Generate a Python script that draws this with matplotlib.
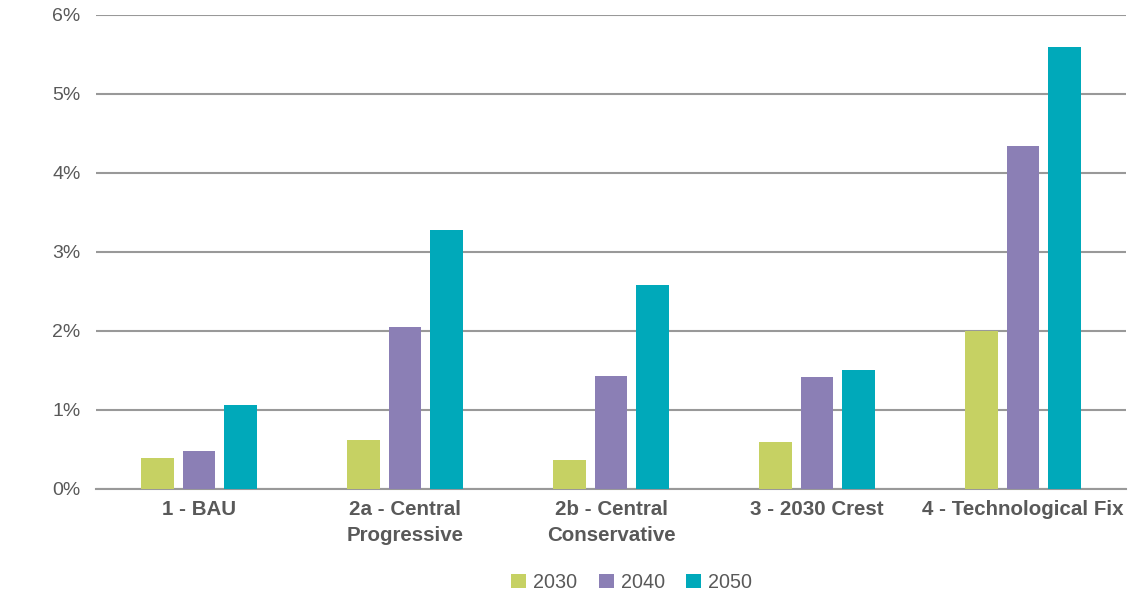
import numpy as np
import matplotlib.pyplot as plt
from matplotlib.ticker import FuncFormatter

# ------------------------------------------------------------
# Data
# ------------------------------------------------------------
categories = ["1 - BAU", "2a - Central\nProgressive", "2b - Central\nConservative",
              "3 - 2030 Crest", "4 - Technological Fix"]
years = ["2030", "2040", "2050"]
v2030 = [0.39, 0.62, 0.37, 0.59, 2.00]
v2040 = [0.48, 2.05, 1.43, 1.42, 4.34]
v2050 = [1.06, 3.28, 2.58, 1.51, 5.59]
yticks = [0, 1, 2, 3, 4, 5, 6]

colors = ["#C6D163", "#8B7FB5", "#00A9BA"]
text_col = "#595959"

plt.rcParams['font.family'] = ['Liberation Sans', 'DejaVu Sans']

fig = plt.figure(figsize=(11.39, 5.97), dpi=100)
ax = fig.add_axes([0.0843, 0.181, 0.9043, 0.7939])

x = np.arange(len(categories))
step = 0.2
width = 0.16
for i, (vals, lab) in enumerate(zip([v2030, v2040, v2050], years)):
    ax.bar(x + (i - 1) * step, vals, width=width, color=colors[i], label=lab, zorder=3)

ax.set_xlim(-0.5, len(categories) - 0.5)
ax.set_ylim(0, 6)
ax.set_yticks(yticks)
ax.yaxis.set_major_formatter(FuncFormatter(lambda v, p: f"{v:.0f}%"))
ax.grid(axis="y", color="#999999", linewidth=1.5, zorder=0)
ax.set_axisbelow(True)

for s in ["top", "right", "left"]:
    ax.spines[s].set_visible(False)
ax.spines["bottom"].set_color("#999999")
ax.spines["bottom"].set_linewidth(1.5)

ax.tick_params(axis="y", length=0, pad=11, labelsize=14, labelcolor=text_col)
ax.tick_params(axis="x", length=0, pad=8)
ax.set_xticks(x)
ax.set_xticklabels(categories, fontsize=14.8, fontweight="bold", color=text_col,
                   linespacing=1.45)

leg = ax.legend(loc="center", bbox_to_anchor=(0.52, -0.197), ncol=3, frameon=False,
                handlelength=0.76, handleheight=0.76, handletextpad=0.35,
                columnspacing=1.1, fontsize=14.2)
for t in leg.get_texts():
    t.set_color(text_col)

fig.savefig("out.png", dpi=100)
